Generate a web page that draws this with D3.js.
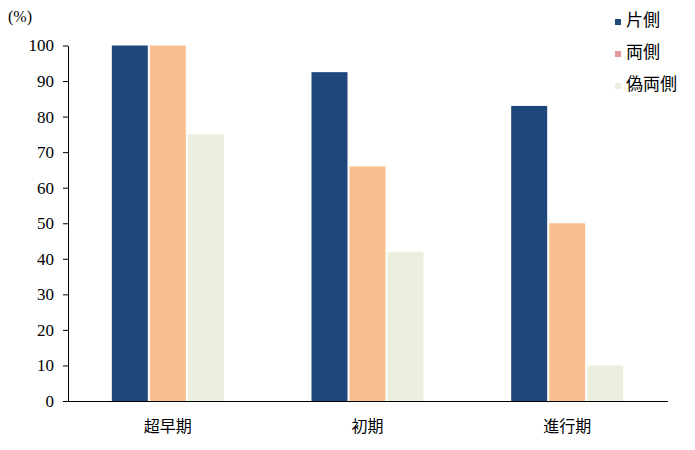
<!DOCTYPE html><html><head><meta charset="utf-8"><script src="https://cdn.jsdelivr.net/npm/d3@7"></script>
<style>body{margin:0;background:#fff}</style></head><body><svg id="c" width="695" height="450"></svg>
<script>
const categories=["超早期","初期","進行期"];
const seriesNames=["片側","両側","偽両側"];
const katagawa=[100,92.5,83];
const ryogawa=[100,66,50];
const giryogawa=[75,42,10];
const yTicks=[0,10,20,30,40,50,60,70,80,90,100];
const colors=["#1f477b","#f9c08f","#ebf0de"];
const legendColors=["#1f477b","#e09a9a","#ebf0de"];
const svg=d3.select("#c");
const x=d3.scaleBand().domain(categories).range([68,667]);
const y=d3.scaleLinear().domain([0,100]).range([401,45.5]);
const serif="'Liberation Serif','DejaVu Serif',serif", jp="'Noto Sans CJK JP',sans-serif";
const series=[katagawa,ryogawa,giryogawa];
const bw=36,gap=2;
series.forEach((s,i)=>{
  svg.append("g").selectAll("rect").data(s).join("rect")
   .attr("x",(d,j)=>x(categories[j])+x.bandwidth()/2-bw*1.5-gap+i*(bw+gap))
   .attr("y",d=>y(d)).attr("width",bw).attr("height",d=>y(0)-y(d)).attr("fill",colors[i]);
});
const ya=svg.append("g").attr("transform","translate(68,0)").call(d3.axisLeft(y).tickValues(yTicks).tickSize(5).tickSizeOuter(0));
ya.selectAll("text").attr("font-family",serif).attr("font-size",17).attr("fill","#000").attr("dx",-6);
ya.selectAll("line,path").attr("stroke","#000");
svg.append("line").attr("x1",68).attr("x2",668).attr("y1",401.5).attr("y2",401.5).attr("stroke","#000");
categories.forEach(c=>svg.append("text").attr("x",x(c)+x.bandwidth()/2).attr("y",432).attr("text-anchor","middle").attr("font-family",jp).attr("font-size",16).text(c));
svg.append("text").attr("x",8).attr("y",22).attr("font-family",serif).attr("font-size",16).text("(%)");
seriesNames.forEach((n,i)=>{
  const yy=26+i*32;
  svg.append("rect").attr("x",615).attr("y",yy-7).attr("width",6).attr("height",6).attr("fill",legendColors[i]);
  svg.append("text").attr("x",626).attr("y",yy).attr("font-family",jp).attr("font-size",17).text(n);
});
</script></body></html>
